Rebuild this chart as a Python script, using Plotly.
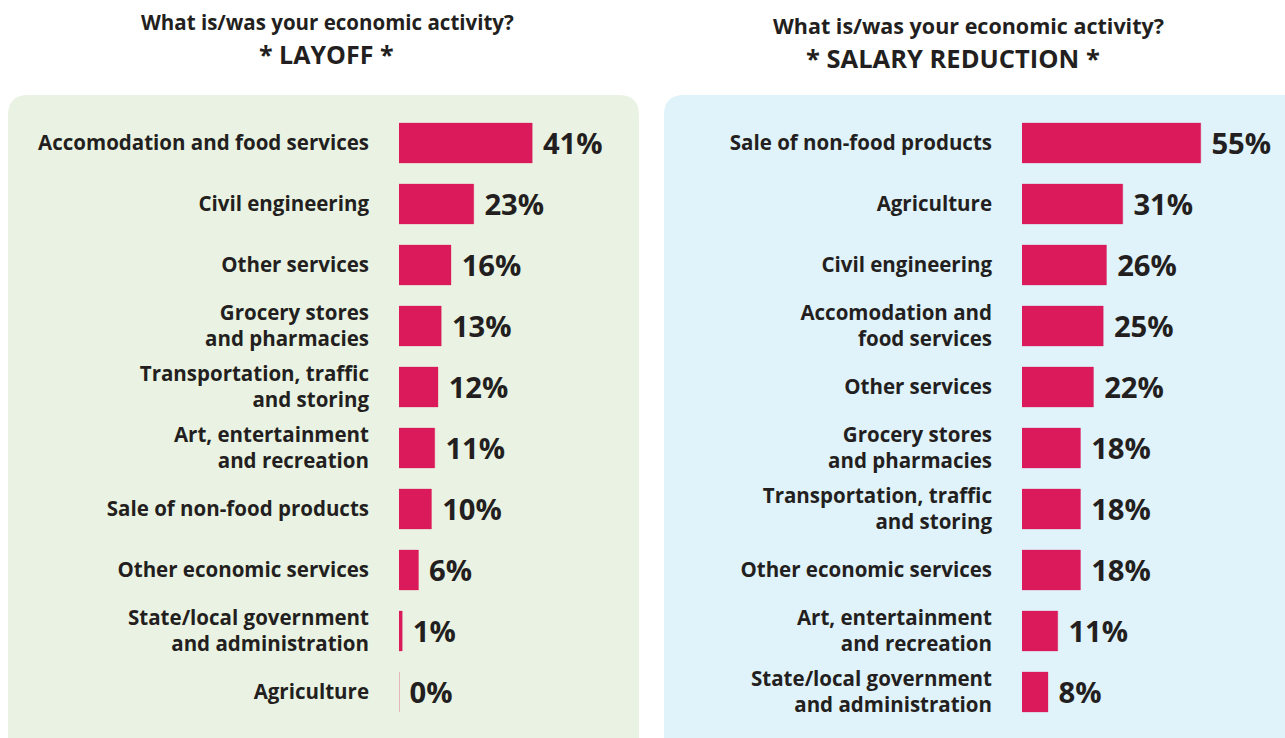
import plotly.graph_objects as go

# ---- data ----
layoff_cats = [
    "Accomodation and food services",
    "Civil engineering",
    "Other services",
    "Grocery stores<br>and pharmacies",
    "Transportation, traffic<br>and storing",
    "Art, entertainment<br>and recreation",
    "Sale of non-food products",
    "Other economic services",
    "State/local government<br>and administration",
    "Agriculture",
]
layoff_vals = [41, 23, 16, 13, 12, 11, 10, 6, 1, 0]

salary_cats = [
    "Sale of non-food products",
    "Agriculture",
    "Civil engineering",
    "Accomodation and<br>food services",
    "Other services",
    "Grocery stores<br>and pharmacies",
    "Transportation, traffic<br>and storing",
    "Other economic services",
    "Art, entertainment<br>and recreation",
    "State/local government<br>and administration",
]
salary_vals = [55, 31, 26, 25, 22, 18, 18, 18, 11, 8]

# ---- style ----
W, H = 1285, 738
BAR = "#DA1A5B"
INK = "#231F20"
FONT = "Open Sans"
GREEN_BG = "#EAF3E3"
BLUE_BG = "#E0F2FA"
PX_PER_PCT = 3.25


def px(x):
    return x / W


def py(y):
    return 1 - y / H


def rounded_rect(x0, y0, x1, y1, r):
    # path in paper coordinates built from pixel corners
    pts = [
        f"M {px(x0 + r)},{py(y0)}",
        f"L {px(x1 - r)},{py(y0)}",
        f"Q {px(x1)},{py(y0)} {px(x1)},{py(y0 + r)}",
        f"L {px(x1)},{py(y1 - r)}",
        f"Q {px(x1)},{py(y1)} {px(x1 - r)},{py(y1)}",
        f"L {px(x0 + r)},{py(y1)}",
        f"Q {px(x0)},{py(y1)} {px(x0)},{py(y1 - r)}",
        f"L {px(x0)},{py(y0 + r)}",
        f"Q {px(x0)},{py(y0)} {px(x0 + r)},{py(y0)}",
        "Z",
    ]
    return " ".join(pts)


fig = go.Figure()


def add_bars(cats, vals, xa, ya):
    fig.add_trace(go.Bar(
        x=vals, y=cats, orientation="h",
        xaxis=xa, yaxis=ya,
        marker=dict(color=BAR, line=dict(color="rgba(218,26,91,0.3)", width=1)),
        width=0.655,
        text=[f"{v}%" for v in vals],
        texttemplate=" %{text}",
        textposition="outside",
        textfont=dict(family=FONT, size=30, color=INK, weight="bold"),
        cliponaxis=False,
        showlegend=False,
        hoverinfo="skip",
    ))


add_bars(layoff_cats, layoff_vals, "x", "y")
add_bars(salary_cats, salary_vals, "x2", "y2")

ydom = [py(722.5), py(112.5)]
left_dom = [px(399), px(639)]
right_dom = [px(1022), 1.0]

axis_common = dict(showgrid=False, zeroline=False, showline=False, showticklabels=False, ticks="")
yaxis_common = dict(
    showgrid=False, zeroline=False, showline=False, ticks="",
    autorange="reversed", domain=ydom, ticklabelstandoff=29,
    tickfont=dict(family=FONT, size=20.5, color=INK, weight="bold"),
)


def title(text, x, y, size):
    return dict(text=text, x=px(x), y=py(y), xref="paper", yref="paper",
                showarrow=False, xanchor="center", yanchor="middle",
                font=dict(family=FONT, size=size, color=INK, weight="bold"))


fig.update_layout(
    width=W, height=H,
    margin=dict(l=0, r=0, t=0, b=0),
    paper_bgcolor="white", plot_bgcolor="rgba(0,0,0,0)",
    xaxis=dict(domain=left_dom, range=[0, (639 - 399) / PX_PER_PCT], **axis_common),
    xaxis2=dict(domain=right_dom, range=[0, (1285 - 1022) / PX_PER_PCT], anchor="y2", **axis_common),
    yaxis=dict(anchor="x", **yaxis_common),
    yaxis2=dict(anchor="x2", **yaxis_common),
    shapes=[
        dict(type="path", xref="paper", yref="paper", layer="below",
             path=rounded_rect(8, 95, 639, 760, 20),
             fillcolor=GREEN_BG, line=dict(width=0)),
        dict(type="path", xref="paper", yref="paper", layer="below",
             path=rounded_rect(664, 95, 1305, 760, 20),
             fillcolor=BLUE_BG, line=dict(width=0)),
    ],
    annotations=[
        title("What is/was your economic activity?", 327.5, 22, 20.5),
        title("* LAYOFF *", 326.5, 54, 25),
        title("What is/was your economic activity?", 968.5, 26, 21.5),
        title("* SALARY REDUCTION *", 953, 58, 25.5),
    ],
)

fig.write_html("out.html")
